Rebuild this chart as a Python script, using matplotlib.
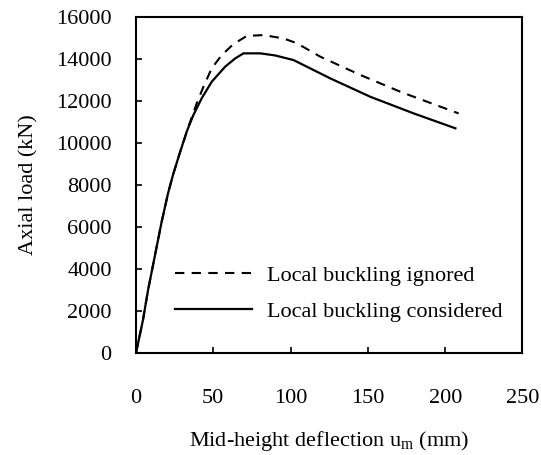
import matplotlib
matplotlib.use('Agg')
import matplotlib.pyplot as plt

plt.rcParams['font.family'] = ['Liberation Serif', 'DejaVu Serif']
plt.rcParams['mathtext.fontset'] = 'custom'
plt.rcParams['mathtext.rm'] = 'Liberation Serif'

# deflection (mm) and axial load (kN)
u_considered = [0, 4.5, 7.8, 12.1, 16.4, 20.7, 24.0, 28.0, 32.8, 37.1, 42.5, 49.0,
                57.6, 64.0, 69.5, 80.3, 90.0, 101.9, 125.6, 151.6, 179.6, 206.6]
P_considered = [0, 1570, 3000, 4590, 6180, 7600, 8500, 9450, 10540, 11330, 12130, 12920,
                13630, 14020, 14270, 14270, 14170, 13950, 13080, 12200, 11410, 10700]

u_ignored = [0, 4.5, 7.8, 12.1, 16.4, 20.7, 24.0, 28.0, 33.9, 39.3, 43.6, 49.0,
             55.5, 63.0, 71.7, 82.4, 95.4, 104.1, 119.2, 145.1, 171.0, 196.9, 208.7]
P_ignored = [0, 1570, 3000, 4590, 6180, 7600, 8500, 9450, 10780, 11890, 12680, 13560,
             14190, 14710, 15100, 15140, 14980, 14750, 14110, 13240, 12440, 11730, 11410]

x_ticks = [0, 50, 100, 150, 200, 250]
y_ticks = [0, 2000, 4000, 6000, 8000, 10000, 12000, 14000, 16000]

fig = plt.figure(figsize=(5.41, 4.55), dpi=100)
ax = fig.add_axes([0.2514, 0.2242, 0.7144, 0.7384])

ax.plot(u_ignored, P_ignored, color='black', lw=1.5, linestyle=(0, (4.5, 3.5)),
        label='Local buckling ignored')
ax.plot(u_considered, P_considered, color='black', lw=1.6,
        label='Local buckling considered')

ax.set_xlim(0, 250)
ax.set_ylim(0, 16000)
ax.set_xticks(x_ticks)
ax.set_yticks(y_ticks)
ax.tick_params(direction='in', length=4.5, width=1.2, labelsize=16)
ax.tick_params(axis='x', pad=26)
ax.tick_params(axis='y', pad=17.5)
for s in ax.spines.values():
    s.set_linewidth(1.5)

ax.set_xlabel(r'Mid-height deflection u$_\mathrm{m}$ (mm)', fontsize=16, labelpad=15)
ax.set_ylabel('Axial load (kN)', fontsize=16, labelpad=13)

ax.legend(loc='upper left', bbox_to_anchor=(0.1, 0.262), frameon=False, fontsize=16,
          handlelength=3.47, handletextpad=0.68, labelspacing=0.7,
          borderpad=0, borderaxespad=0)

fig.savefig('out.png', dpi=100)
